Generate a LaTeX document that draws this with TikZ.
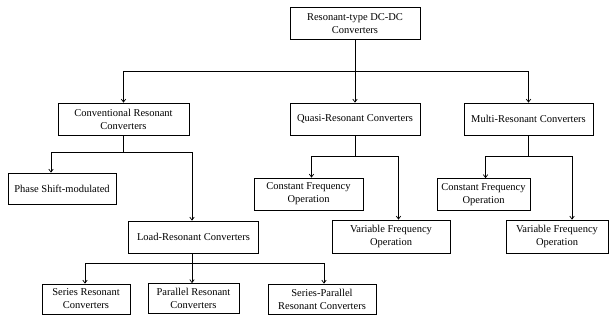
\documentclass[tikz,border=0pt]{standalone}
\usepackage{fontspec}
\setmainfont{Liberation Serif}
\usetikzlibrary{arrows.meta}
\begin{document}
\begin{tikzpicture}[x=1pt,y=-1pt,
  box/.style={draw,line width=0.7pt,inner sep=0pt,align=center,
    font=\fontsize{10.5}{13}\selectfont},
  conn/.style={line width=0.7pt},
  arr/.style={conn,-{Straight Barb[length=3pt,width=4.5pt]}}]
\useasboundingbox (0,0) rectangle (609,324);
\node[box,minimum width=130pt,minimum height=32pt] (root) at (355,23.5) {Resonant-type DC-DC\\Converters};
\node[box,minimum width=131pt,minimum height=32pt] (conv) at (123.5,119) {Conventional Resonant\\Converters};
\node[box,minimum width=130pt,minimum height=32pt] (quasi) at (355,119) {Quasi-Resonant Converters};
\node[box,minimum width=129pt,minimum height=32pt] (multi) at (528.5,119) {Multi-Resonant Converters};
\node[box,minimum width=108pt,minimum height=31pt] (phase) at (62,188.5) {Phase Shift-modulated};
\node[box,minimum width=130pt,minimum height=32pt] (load) at (193.5,237) {Load-Resonant Converters};
\node[box,minimum width=88pt,minimum height=30pt] (series) at (86,299) {Series Resonant\\Converters};
\node[box,minimum width=91pt,minimum height=30pt] (parallel) at (193.5,298.5) {Parallel Resonant\\Converters};
\node[box,minimum width=108pt,minimum height=30pt] (sp) at (322,299) {Series-Parallel\\Resonant Converters};
\node[box,minimum width=109pt,minimum height=32pt] (constq) at (308.5,194) {Constant Frequency\\Operation};
\node[box,minimum width=118pt,minimum height=33pt] (varq) at (391,236.5) {Variable Frequency\\Operation};
\node[box,minimum width=93pt,minimum height=32pt] (constm) at (483.5,194.5) {Constant Frequency\\Operation};
\node[box,minimum width=102pt,minimum height=33pt] (varm) at (557,236.5) {Variable Frequency\\Operation};
% connectors
\coordinate (j1) at (355,71);
\draw[conn] (root.south) -- (j1);
\draw[arr] (j1) -| (conv.north);
\draw[arr] (j1) -- (quasi.north);
\draw[arr] (j1) -| (multi.north);
\coordinate (j2) at (123.5,152);
\draw[conn] (conv.south) -- (j2);
\draw[arr] (j2) -| ([xshift=-11pt]phase.north);
\draw[arr] (j2) -| ([xshift=-1.5pt]load.north);
\coordinate (j3) at (192,263);
\draw[conn] ([xshift=-1.5pt]load.south) -- (j3);
\draw[arr] (j3) -| ([xshift=-1pt]series.north);
\draw[arr] (j3) -| ([xshift=-1.5pt]parallel.north);
\draw[arr] (j3) -| ([xshift=2pt]sp.north);
\coordinate (j4) at (355,156);
\draw[conn] (quasi.south) -- (j4);
\draw[arr] (j4) -| ([xshift=3pt]constq.north);
\draw[arr] (j4) -| ([xshift=7.5pt]varq.north);
\coordinate (j5) at (528.5,156);
\draw[conn] (multi.south) -- (j5);
\draw[arr] (j5) -| ([xshift=2pt]constm.north);
\draw[arr] (j5) -| ([xshift=15pt]varm.north);
\end{tikzpicture}
\end{document}
